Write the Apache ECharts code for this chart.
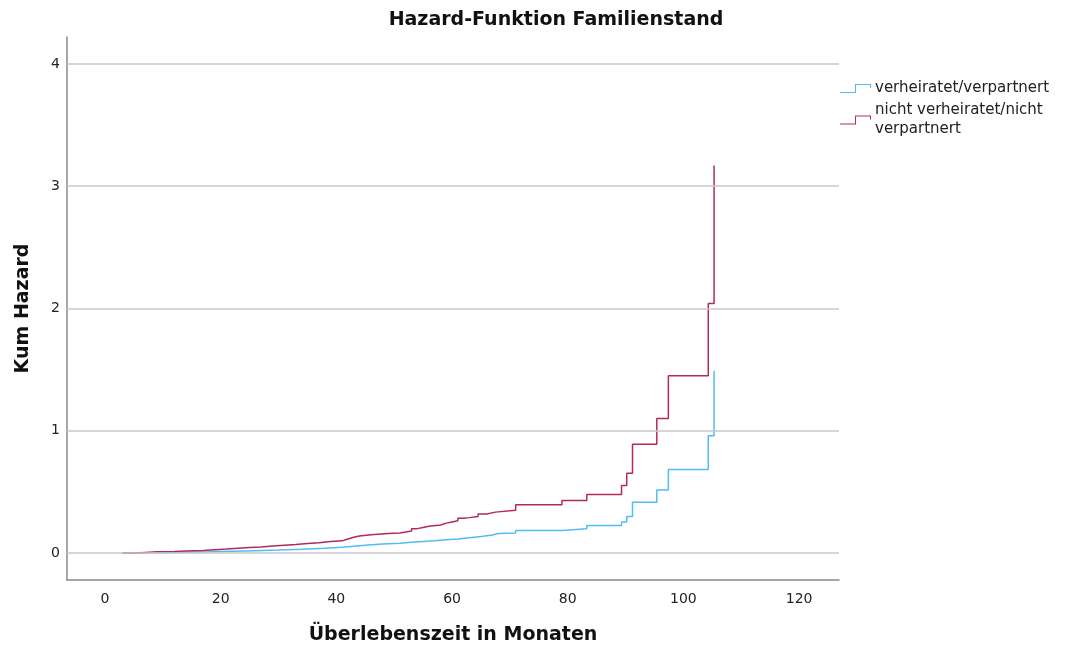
<!DOCTYPE html>
<html>
<head>
<meta charset="utf-8">
<script src="https://cdn.jsdelivr.net/npm/echarts@6/dist/echarts.min.js"></script>
<style>
  html, body { margin: 0; padding: 0; background: #fff; }
  #chart { width: 1076px; height: 653px; }
</style>
</head>
<body>
<div id="chart"></div>
<script>
// Cumulative hazard by marital status: [month, cumulative hazard] step points
const verheiratet = [
  [3, 0], [6, 0.003], [10, 0.007], [14, 0.01], [18, 0.015], [22, 0.02],
  [26, 0.025], [30, 0.032], [34, 0.04], [38, 0.048], [41, 0.055], [43, 0.065],
  [45, 0.075], [48, 0.08], [51, 0.088], [53, 0.095], [55, 0.1], [57, 0.11],
  [59, 0.115], [61, 0.125], [63, 0.135], [65, 0.148], [67, 0.16], [68, 0.165],
  [71, 0.185], [79, 0.2], [83.3, 0.225], [89.3, 0.255], [90.2, 0.3],
  [91.2, 0.415], [95.4, 0.515], [97.4, 0.684], [104.3, 0.96], [105.3, 1.49]
];
const nichtVerheiratet = [
  [3, 0], [5, 0.005], [7, 0.01], [9, 0.013], [12, 0.018], [14, 0.022],
  [17, 0.028], [19, 0.033], [21, 0.04], [23, 0.045], [25, 0.05], [27, 0.058],
  [29, 0.065], [31, 0.07], [33, 0.078], [35, 0.085], [37, 0.095], [39, 0.1],
  [41, 0.115], [42, 0.13], [43, 0.14], [44, 0.15], [46, 0.16], [49, 0.165],
  [51, 0.18], [53, 0.2], [54, 0.21], [55, 0.22], [56, 0.23], [58, 0.245],
  [59, 0.255], [60, 0.265], [61, 0.285], [62, 0.29], [63, 0.3], [64.5, 0.32],
  [66, 0.335], [67.5, 0.35], [71, 0.395], [79, 0.43], [83.3, 0.48],
  [89.3, 0.553], [90.2, 0.652], [91.2, 0.889], [95.4, 1.1], [97.4, 1.45],
  [104.3, 2.04], [105.3, 3.17]
];
const seriesNames = ['verheiratet/verpartnert', 'nicht verheiratet/nicht verpartnert'];
const xTicks = [0, 20, 40, 60, 80, 100, 120];
const yTicks = [0, 1, 2, 3, 4];

const BLUE = '#52bcf5';
const RED = '#b22a5b';
const FONT = '"DejaVu Sans", Verdana, sans-serif';
// Step-shaped legend glyph, drawn as a thin filled outline
const stepIcon = 'path://M0,8 L15,8 L15,0 L31,0 L31,4 L30,4 L30,1 L16,1 L16,9 L0,9 Z';

const chart = echarts.init(document.getElementById('chart'), null, { renderer: 'canvas' });

chart.setOption({
  backgroundColor: '#ffffff',
  animation: false,
  graphic: [{
    type: 'text',
    x: 556,
    y: 11,
    style: {
      text: 'Hazard-Funktion Familienstand',
      font: 'bold 19px ' + FONT,
      fill: '#111',
      align: 'center'
    }
  }],
  legend: {
    orient: 'vertical',
    left: 840,
    top: 79,
    padding: 0,
    itemWidth: 31,
    itemHeight: 9,
    itemGap: 3,
    icon: stepIcon,
    data: seriesNames,
    formatter: function (name) {
      return name === seriesNames[1] ? 'nicht verheiratet/nicht\nverpartnert' : name;
    },
    textStyle: { fontFamily: FONT, fontSize: 15, color: '#222', lineHeight: 19, padding: [0, 0, 0, -1] }
  },
  grid: { left: 67, right: 237, top: 37, bottom: 73, containLabel: false },
  xAxis: {
    type: 'value',
    min: -6.57,
    max: 126.9,
    name: 'Überlebenszeit in Monaten',
    nameLocation: 'middle',
    nameGap: 46,
    nameTextStyle: { fontFamily: FONT, fontSize: 19, fontWeight: 'bold', color: '#111' },
    axisLine: { show: true, onZero: false, lineStyle: { color: '#8a8a8a', width: 1.5 } },
    axisTick: { show: false },
    splitLine: { show: false },
    axisLabel: {
      customValues: xTicks,
      margin: 12,
      fontFamily: FONT,
      fontSize: 14,
      color: '#222'
    }
  },
  yAxis: {
    type: 'value',
    min: -0.22,
    max: 4.22,
    name: 'Kum Hazard',
    nameLocation: 'middle',
    nameGap: 34,
    nameTextStyle: { fontFamily: FONT, fontSize: 19, fontWeight: 'bold', color: '#111' },
    axisLine: { show: true, onZero: false, lineStyle: { color: '#8a8a8a', width: 1.5 } },
    axisTick: { show: false },
    splitLine: { show: false },
    axisLabel: {
      customValues: yTicks,
      margin: 7,
      fontFamily: FONT,
      fontSize: 14,
      color: '#222'
    }
  },
  series: [
    {
      name: 'grid-lines',
      type: 'line',
      data: [],
      silent: true,
      z: 1,
      markLine: {
        silent: true,
        symbol: 'none',
        label: { show: false },
        lineStyle: { color: '#c9c9c9', width: 1.5, type: 'solid' },
        data: yTicks.map(v => ({ yAxis: v }))
      }
    },
    {
      name: seriesNames[0],
      type: 'line',
      step: 'end',
      data: verheiratet,
      showSymbol: false,
      z: 3,
      itemStyle: { color: BLUE },
      lineStyle: { color: BLUE, width: 1.5 }
    },
    {
      name: seriesNames[1],
      type: 'line',
      step: 'end',
      data: nichtVerheiratet,
      showSymbol: false,
      z: 4,
      itemStyle: { color: RED },
      lineStyle: { color: RED, width: 1.5 }
    }
  ]
});
</script>
</body>
</html>
